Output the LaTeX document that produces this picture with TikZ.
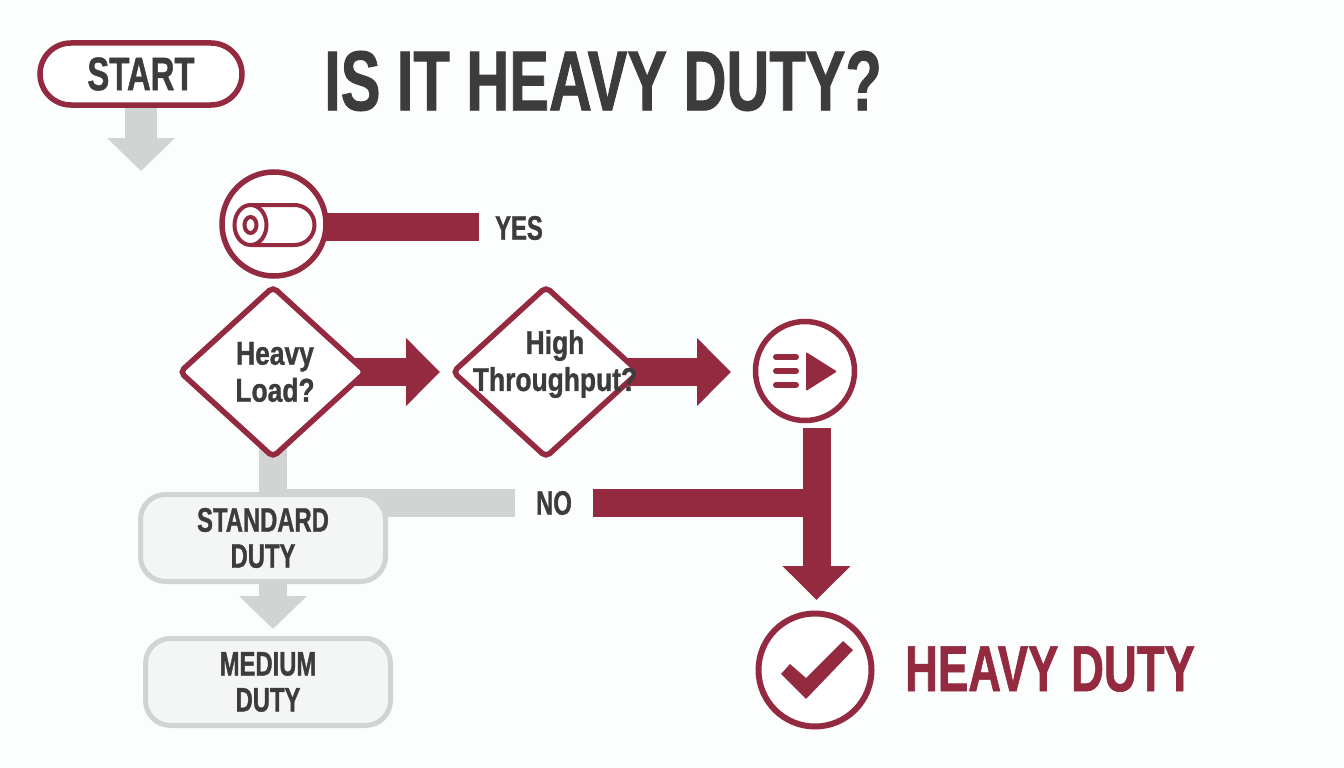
\documentclass[tikz,border=0pt]{standalone}
\usepackage{fontspec}
\setmainfont{Liberation Sans}[FakeStretch=0.7,FakeBold=1]
\newfontfamily\askfont{Liberation Sans}[FakeStretch=0.8,FakeBold=1]
\usepackage{xcolor}
\usetikzlibrary{arrows.meta, positioning, shapes.geometric, backgrounds}
\definecolor{dutyred}{HTML}{932A3F}
\definecolor{dutygray}{HTML}{D2D4D4}
\definecolor{dutyink}{HTML}{3C3C3C}
\definecolor{dutypaper}{HTML}{FCFDFD}
\definecolor{dutybox}{HTML}{F4F5F5}
\tikzset{
  ringnode/.style={circle, draw=dutyred, line width=5.5pt, fill=white, inner sep=0pt},
  asknode/.style={diamond, draw=dutyred, line width=5.5pt, fill=white, inner sep=0pt, rounded corners=5pt, minimum width=188pt, minimum height=172pt},
  asktext/.style={text=dutyink, font=\askfont\bfseries\fontsize{33}{37}\selectfont, align=center},
  dutynode/.style={draw=dutygray, line width=5pt, fill=dutybox, rounded corners=25pt, minimum width=245pt, minimum height=87pt, inner sep=0pt, text=dutyink, font=\bfseries\fontsize{34}{36}\selectfont, align=center},
  wordnode/.style={text=dutyink, font=\bfseries\fontsize{34}{36}\selectfont, inner sep=0pt},
  redbar/.style={draw=dutyred, line width=28pt},
  graybar/.style={draw=dutygray, line width=28pt},
  redarrow/.style={redbar, -{Triangle[length=34pt,width=66pt]}},
  grayarrow/.style={graybar, -{Triangle[length=33pt,width=66pt]}},
}
\begin{document}
\begin{tikzpicture}[x=1pt,y=-1pt]
\useasboundingbox (0,0) rectangle (1344,768);

\node[draw=dutyred, line width=5.5pt, fill=white, rounded corners=31pt, minimum width=202pt, minimum height=62pt, inner sep=0pt, text=dutyink, font=\bfseries\fontsize{47}{50}\selectfont] (start) at (141,74) {START\hspace{5pt}};
\node[text=dutyink, font=\bfseries\fontsize{85}{88}\selectfont, inner sep=0pt] (title) at (603,81) {IS IT HEAVY DUTY?};
\coordinate (startend) at (141,171);

\node[ringnode, minimum size=104pt] (cylinder) at (274,224) {};
\coordinate (yesstart) at (274,227);
\coordinate (yesend) at (479,227);
\node[wordnode] (yes) at (519,228) {YES};

\node[asknode] (load) at (273,372) {};
\node[asktext] (loadtext) at (275,372) {Heavy\\Load?};
\node[asknode] (rate) at (546,372) {};
\node[asktext] (ratetext) at (555,364) {High\\Throughput?};
\coordinate (loadend) at (440,372);
\coordinate (rateend) at (731,372);
\node[ringnode, minimum size=99pt] (play) at (805,371) {};

\node[dutynode] (standard) at (263,538) {STANDARD\\DUTY};
\node[dutynode] (medium) at (268,682) {MEDIUM\\DUTY};
\node[wordnode] (no) at (554,503) {NO};
\coordinate (noleft) at (515,503);
\coordinate (noright) at (593,503);
\coordinate (playdrop) at (816.5,428);
\coordinate (join) at (816.5,503);
\coordinate (dropend) at (816.5,600);
\coordinate (grayjoin) at (273,503);
\coordinate (graytop) at (273,584);
\coordinate (grayend) at (273,629);

\node[ringnode, line width=6pt, minimum size=113pt] (done) at (815,670) {};
\node[text=dutyred, font=\bfseries\fontsize{65}{68}\selectfont, inner sep=0pt] (heavy) at (1050,669) {HEAVY DUTY};

\begin{scope}[on background layer]
\fill[dutypaper] (0,0) rectangle (1344,768);
\draw[grayarrow, line width=32pt] (start.center) -- (startend);
\draw[redbar] (yesstart) -- (yesend);
\draw[redarrow] (load.center) -- (loadend);
\draw[redarrow] (rate.center) -- (rateend);
\draw[graybar] (load.center) -- (grayjoin);
\draw[graybar] (grayjoin) -- (noleft);
\draw[grayarrow] (graytop) -- (grayend);
\draw[redbar] (noright) -- (join);
\draw[redarrow] (playdrop) -- (dropend);
\end{scope}

\draw[dutyred, line width=4pt, rounded corners=20pt] (251,205) -- (314.5,205) -- (314.5,245) -- (251,245);
\draw[dutyred, line width=4pt, fill=white] (250.5,225) ellipse [x radius=16pt, y radius=20pt];
\draw[dutyred, line width=4pt] (250.5,225) ellipse [x radius=6pt, y radius=8pt];

\foreach \y in {357,371,385}
  \draw[dutyred, line width=6pt, line cap=round] (776,\y) -- (796,\y);
\fill[dutyred, rounded corners=1pt] (806,352) -- (837,371.5) -- (806,391) -- cycle;

\fill[dutyred] (781,674) -- (790,664) -- (806,678) -- (843,641) -- (853,650) -- (806,699) -- cycle;
\end{tikzpicture}
\end{document}
